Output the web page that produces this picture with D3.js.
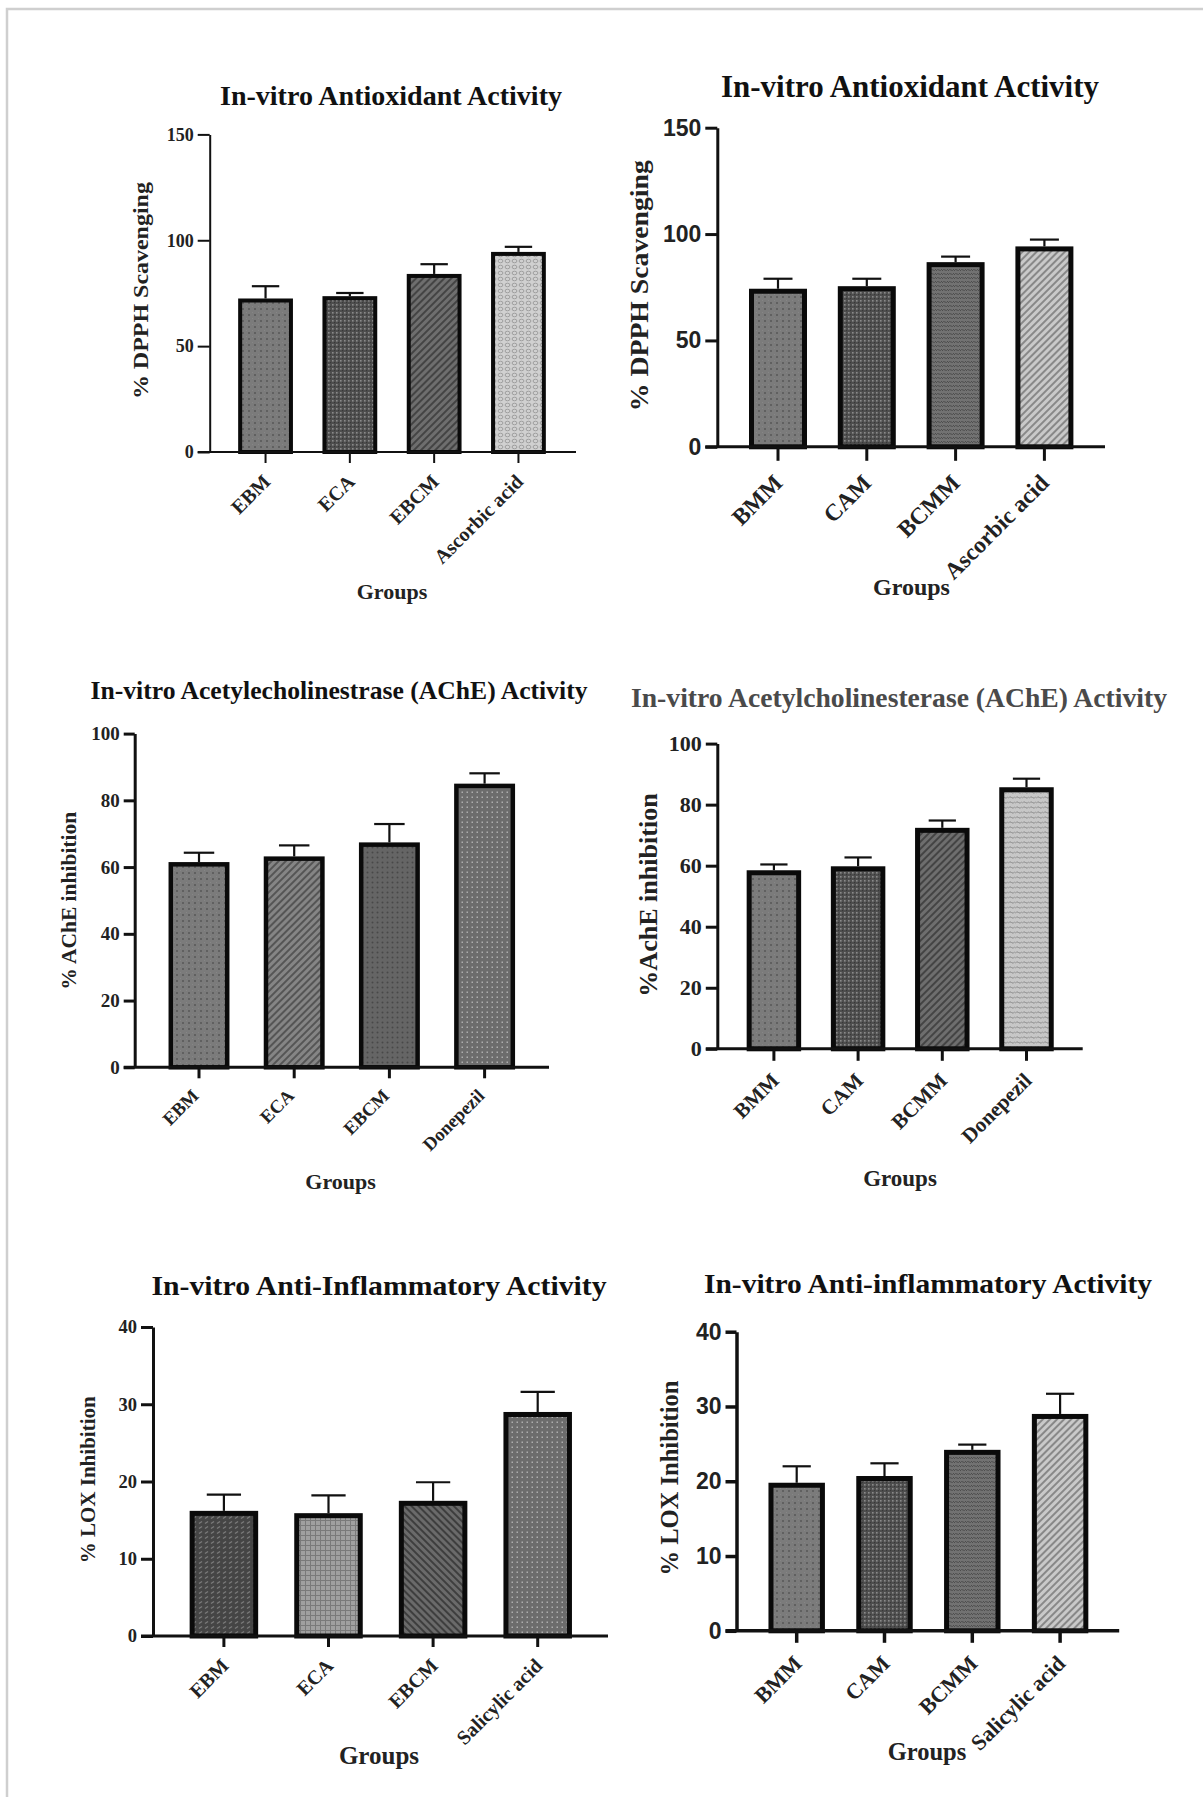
<!DOCTYPE html>
<html><head><meta charset="utf-8">
<script src="https://cdn.jsdelivr.net/npm/d3@7"></script>
<style>body{margin:0;background:#fff}svg{display:block}</style>
</head><body>
<script>
// ---------- data ----------
const dpphLeftGroups = ["EBM", "ECA", "EBCM", "Ascorbic acid"];
const dpphLeftMean = [72.5, 73.6, 84.1, 94.5];
const dpphLeftErr = [5.8, 1.5, 4.6, 2.4];

const dpphRightGroups = ["BMM", "CAM", "BCMM", "Ascorbic acid"];
const dpphRightMean = [74.3, 75.5, 86.8, 94.2];
const dpphRightErr = [4.7, 3.5, 2.6, 3.2];

const acheLeftGroups = ["EBM", "ECA", "EBCM", "Donepezil"];
const acheLeftMean = [61.5, 63.2, 67.4, 85.0];
const acheLeftErr = [2.8, 3.3, 5.5, 3.1];

const acheRightGroups = ["BMM", "CAM", "BCMM", "Donepezil"];
const acheRightMean = [58.5, 59.8, 72.4, 85.7];
const acheRightErr = [1.9, 2.9, 2.4, 2.8];

const loxLeftGroups = ["EBM", "ECA", "EBCM", "Salicylic acid"];
const loxLeftMean = [16.2, 15.9, 17.5, 29.0];
const loxLeftErr = [2.1, 2.3, 2.4, 2.6];

const loxRightGroups = ["BMM", "CAM", "BCMM", "Salicylic acid"];
const loxRightMean = [19.8, 20.7, 24.2, 29.0];
const loxRightErr = [2.2, 1.7, 0.7, 2.7];

const ticksDPPH = [0, 50, 100, 150];
const ticksAChE = [0, 20, 40, 60, 80, 100];
const ticksLOX = [0, 10, 20, 30, 40];

const titles = [
  "In-vitro Antioxidant Activity",
  "In-vitro Antioxidant Activity",
  "In-vitro Acetylecholinestrase (AChE) Activity",
  "In-vitro Acetylcholinesterase (AChE) Activity",
  "In-vitro Anti-Inflammatory Activity",
  "In-vitro Anti-inflammatory Activity"
];
const yLabels = [
  "% DPPH Scavenging", "% DPPH Scavenging",
  "% AChE inhibition", "%AchE inhibition",
  "% LOX Inhibition", "% LOX Inhibition"
];
const xLabel = "Groups";

// ---------- layout ----------
const W = 1203, H = 1797;
const svg = d3.select("body").append("svg").attr("width", W).attr("height", H);
svg.append("rect").attr("width", W).attr("height", H).attr("fill", "#fff");
svg.append("path").attr("d", `M7,${H} L7,9 L${W},9`).attr("fill", "none")
  .attr("stroke", "#cfcfcf").attr("stroke-width", 2.5);

const defs = svg.append("defs");
function pat(id, w, h, bg, draw, rot) {
  const p = defs.append("pattern").attr("id", id).attr("patternUnits", "userSpaceOnUse")
    .attr("width", w).attr("height", h);
  if (rot) p.attr("patternTransform", `rotate(${rot})`);
  p.append("rect").attr("width", w).attr("height", h).attr("fill", bg);
  draw(p);
}
pat("pDots", 6, 6, "#7b7b7b", p => {
  p.append("circle").attr("cx", 3).attr("cy", 3).attr("r", 1).attr("fill", "#575757");
  p.append("circle").attr("cx", 0).attr("cy", 0).attr("r", 0.8).attr("fill", "#959595");
});
pat("pChecker", 4, 4, "#4e4e4e", p => {
  p.append("rect").attr("x", 0).attr("y", 0).attr("width", 1.6).attr("height", 1.6).attr("fill", "#8a8a8a");
  p.append("rect").attr("x", 2).attr("y", 2).attr("width", 1.2).attr("height", 1.2).attr("fill", "#383838");
});
pat("pHatchUp", 5, 5, "#6e6e6e", p => {
  p.append("rect").attr("x", 0).attr("y", 0).attr("width", 2).attr("height", 5).attr("fill", "#444");
}, 45);
pat("pHatchUpLight", 5, 5, "#858585", p => {
  p.append("rect").attr("x", 0).attr("y", 0).attr("width", 2).attr("height", 5).attr("fill", "#555");
}, 45);
pat("pHatchDown", 5, 5, "#6a6a6a", p => {
  p.append("rect").attr("x", 0).attr("y", 0).attr("width", 2).attr("height", 5).attr("fill", "#3e3e3e");
}, -45);
pat("pLightBubble", 7, 6, "#d0d0d0", p => {
  p.append("ellipse").attr("cx", 3.5).attr("cy", 3).attr("rx", 2.4).attr("ry", 1.8)
    .attr("fill", "none").attr("stroke", "#979797").attr("stroke-width", 0.9);
});
pat("pLightHatch", 5, 5, "#c9c9c9", p => {
  p.append("rect").attr("x", 0).attr("y", 0).attr("width", 2).attr("height", 5).attr("fill", "#888");
}, 45);
pat("pWavy", 6, 4, "#727272", p => {
  p.append("path").attr("d", "M0,3 Q1.5,0.5 3,2 T6,1").attr("fill", "none")
    .attr("stroke", "#4c4c4c").attr("stroke-width", 1);
});
pat("pLightWavy", 7, 5, "#c7c7c7", p => {
  p.append("path").attr("d", "M0,3.5 Q1.75,0.5 3.5,2.5 T7,1.5").attr("fill", "none")
    .attr("stroke", "#8c8c8c").attr("stroke-width", 1);
});
pat("pDarkDash", 6, 5, "#454545", p => {
  p.append("path").attr("d", "M1,3.5 L4,1.5").attr("stroke", "#7a7a7a").attr("stroke-width", 1.4);
});
pat("pGrayGrid", 5, 5, "#a0a0a0", p => {
  p.append("path").attr("d", "M0,0.5 H5 M0.5,0 V5").attr("stroke", "#7a7a7a").attr("stroke-width", 1);
});
pat("pDotsDark", 5, 5, "#6c6c6c", p => {
  p.append("rect").attr("x", 1.5).attr("y", 1.5).attr("width", 1.5).attr("height", 1.5).attr("fill", "#adadad");
});
pat("pDarkDots", 5, 5, "#656565", p => {
  p.append("circle").attr("cx", 2.5).attr("cy", 2.5).attr("r", 1).attr("fill", "#484848");
});

const serif = "'Liberation Serif','Times New Roman',serif";
const sans = "'Liberation Sans',Arial,sans-serif";

const panels = [
  { groups: dpphLeftGroups, mean: dpphLeftMean, err: dpphLeftErr, ticks: ticksDPPH, max: 150,
    axX: 209.7, yTop: 134.4, y0: 452, xRight: 576, band: [223.4, 560.6], pad: 0.35,
    tickLen: 12, xTickLen: 11, axW: 2, barW: 4, tickFont: serif, tickSize: 18, xlabSize: 20, xlabDx: 0.3,
    title: { x: 391, y: 105, size: 27, len: 342, color: "#111" },
    ylab: { x: 140, y: 290.6, size: 22, len: 217 }, grp: { x: 392, y: 599, size: 22 },
    fills: ["pDots", "pChecker", "pHatchUp", "pLightBubble"] },
  { groups: dpphRightGroups, mean: dpphRightMean, err: dpphRightErr, ticks: ticksDPPH, max: 150,
    axX: 717.3, yTop: 127.7, y0: 446.8, xRight: 1105, band: [733.6, 1088.8], pad: 0.347,
    tickLen: 12, xTickLen: 14, axW: 3, barW: 5, tickFont: sans, tickSize: 23, xlabSize: 23.5, xlabDx: 0.25,
    title: { x: 910, y: 97, size: 31, len: 378, color: "#111" },
    ylab: { x: 638.5, y: 285.7, size: 26, len: 251 }, grp: { x: 911.5, y: 595, size: 24 },
    fills: ["pDots", "pChecker", "pWavy", "pLightHatch"] },
  { groups: acheLeftGroups, mean: acheLeftMean, err: acheLeftErr, ticks: ticksAChE, max: 100,
    axX: 134.7, yTop: 733.6, y0: 1067.3, xRight: 549, band: [151.4, 532.2], pad: 0.36,
    tickLen: 11, xTickLen: 11, axW: 3, barW: 4.5, tickFont: serif, tickSize: 19, xlabSize: 18.5, xlabDx: 0.05,
    title: { x: 339, y: 699, size: 25, len: 497, color: "#111" },
    ylab: { x: 69, y: 900.8, size: 21, len: 178 }, grp: { x: 340.6, y: 1189, size: 22 },
    fills: ["pDots", "pHatchUpLight", "pDarkDots", "pDotsDark"] },
  { groups: acheRightGroups, mean: acheRightMean, err: acheRightErr, ticks: ticksAChE, max: 100,
    axX: 717.3, yTop: 743.6, y0: 1048.8, xRight: 1082.7, band: [731.8, 1068.6], pad: 0.353,
    tickLen: 11.5, xTickLen: 12, axW: 3, barW: 5, tickFont: serif, tickSize: 22, xlabSize: 21, xlabDx: 0.3,
    title: { x: 899, y: 706.6, size: 27.5, len: 536, color: "#4a4a4a" },
    ylab: { x: 648, y: 895, size: 26, len: 203.5 }, grp: { x: 900, y: 1185.7, size: 23 },
    fills: ["pDots", "pChecker", "pHatchUp", "pLightWavy"] },
  { groups: loxLeftGroups, mean: loxLeftMean, err: loxLeftErr, ticks: ticksLOX, max: 40,
    axX: 153, yTop: 1327, y0: 1636, xRight: 608, band: [171.6, 590], pad: 0.345,
    tickLen: 12, xTickLen: 11, axW: 3, barW: 5, tickFont: serif, tickSize: 18.5, xlabSize: 20, xlabDx: 0.3,
    title: { x: 379, y: 1295, size: 28, len: 455, color: "#111" },
    ylab: { x: 88, y: 1479.8, size: 21, len: 167 }, grp: { x: 379, y: 1764, size: 25 },
    fills: ["pDarkDash", "pGrayGrid", "pHatchDown", "pDotsDark"] },
  { groups: loxRightGroups, mean: loxRightMean, err: loxRightErr, ticks: ticksLOX, max: 40,
    axX: 736.5, yTop: 1331.7, y0: 1630.8, xRight: 1119.2, band: [752.8, 1104], pad: 0.357,
    tickLen: 11, xTickLen: 12, axW: 3.5, barW: 5, tickFont: sans, tickSize: 23, xlabSize: 22, xlabDx: 0.3,
    title: { x: 928, y: 1293.3, size: 28, len: 448, color: "#111" },
    ylab: { x: 669, y: 1478, size: 24.6, len: 195 }, grp: { x: 927, y: 1760, size: 24.5 },
    fills: ["pDots", "pChecker", "pWavy", "pLightHatch"] }
];

panels.forEach((P, k) => {
  const g = svg.append("g");
  const y = d3.scaleLinear().domain([0, P.max]).range([P.y0, P.yTop]);
  const x = d3.scaleBand().domain(P.groups).range(P.band).paddingInner(P.pad).paddingOuter(P.pad / 2);
  const bw = x.bandwidth();

  // title
  g.append("text").attr("x", P.title.x).attr("y", P.title.y).attr("text-anchor", "middle")
    .attr("font-family", serif).attr("font-weight", "bold").attr("font-size", P.title.size)
    .attr("fill", P.title.color)
    .attr("textLength", P.title.len).attr("lengthAdjust", "spacingAndGlyphs")
    .text(titles[k]);

  // error bars
  const eb = g.append("g").attr("stroke", "#111").attr("stroke-width", 2.2);
  P.groups.forEach((gr, i) => {
    const cx = x(gr) + bw / 2;
    const top = y(P.mean[i] + P.err[i]);
    eb.append("line").attr("x1", cx).attr("x2", cx).attr("y1", y(P.mean[i])).attr("y2", top);
    eb.append("line").attr("x1", cx - bw * 0.25).attr("x2", cx + bw * 0.25).attr("y1", top).attr("y2", top);
  });

  // bars
  g.append("g").selectAll("rect").data(P.mean).join("rect")
    .attr("x", (d, i) => x(P.groups[i]) + P.barW / 2)
    .attr("width", bw - P.barW)
    .attr("y", d => y(d) + P.barW / 2)
    .attr("height", d => P.y0 - y(d) - P.barW / 2)
    .attr("fill", (d, i) => `url(#${P.fills[i]})`)
    .attr("stroke", "#0a0a0a").attr("stroke-width", P.barW);

  // y axis
  const ya = g.append("g").attr("transform", `translate(${P.axX},0)`)
    .call(d3.axisLeft(y).tickValues(P.ticks).tickSize(P.tickLen).tickSizeOuter(0).tickPadding(4));
  ya.selectAll("path,line").attr("stroke", "#111").attr("stroke-width", P.axW);
  ya.selectAll("text").attr("font-family", P.tickFont).attr("font-weight", "bold")
    .attr("font-size", P.tickSize).attr("fill", "#222");

  // x axis baseline
  g.append("line").attr("x1", P.axX - P.tickLen).attr("x2", P.xRight)
    .attr("y1", P.y0).attr("y2", P.y0).attr("stroke", "#111").attr("stroke-width", P.axW);
  const xa = g.append("g").attr("transform", `translate(0,${P.y0})`)
    .call(d3.axisBottom(x).tickSize(P.xTickLen).tickSizeOuter(0).tickFormat(""));
  xa.select(".domain").remove();
  xa.selectAll("line").attr("stroke", "#111").attr("stroke-width", P.axW);

  // x labels rotated
  g.append("g").selectAll("text").data(P.groups).join("text")
    .attr("transform", d => {
      const px = x(d) + bw / 2 + P.xlabDx * P.xlabSize;
      const py = P.y0 + P.xTickLen + P.xlabSize;
      return `translate(${px},${py}) rotate(-45)`;
    })
    .attr("text-anchor", "end").attr("font-family", serif).attr("font-weight", "bold")
    .attr("font-size", P.xlabSize).attr("fill", "#222").text(d => d);

  // y label
  g.append("text").attr("transform", `translate(${P.ylab.x},${P.ylab.y}) rotate(-90)`)
    .attr("text-anchor", "middle").attr("dy", "0.35em")
    .attr("font-family", serif).attr("font-weight", "bold").attr("font-size", P.ylab.size)
    .attr("fill", "#222")
    .attr("textLength", P.ylab.len).attr("lengthAdjust", "spacingAndGlyphs")
    .text(yLabels[k]);

  // Groups label
  g.append("text").attr("x", P.grp.x).attr("y", P.grp.y).attr("text-anchor", "middle")
    .attr("font-family", serif).attr("font-weight", "bold").attr("font-size", P.grp.size)
    .attr("fill", "#222").text(xLabel);
});
</script>
</body></html>
